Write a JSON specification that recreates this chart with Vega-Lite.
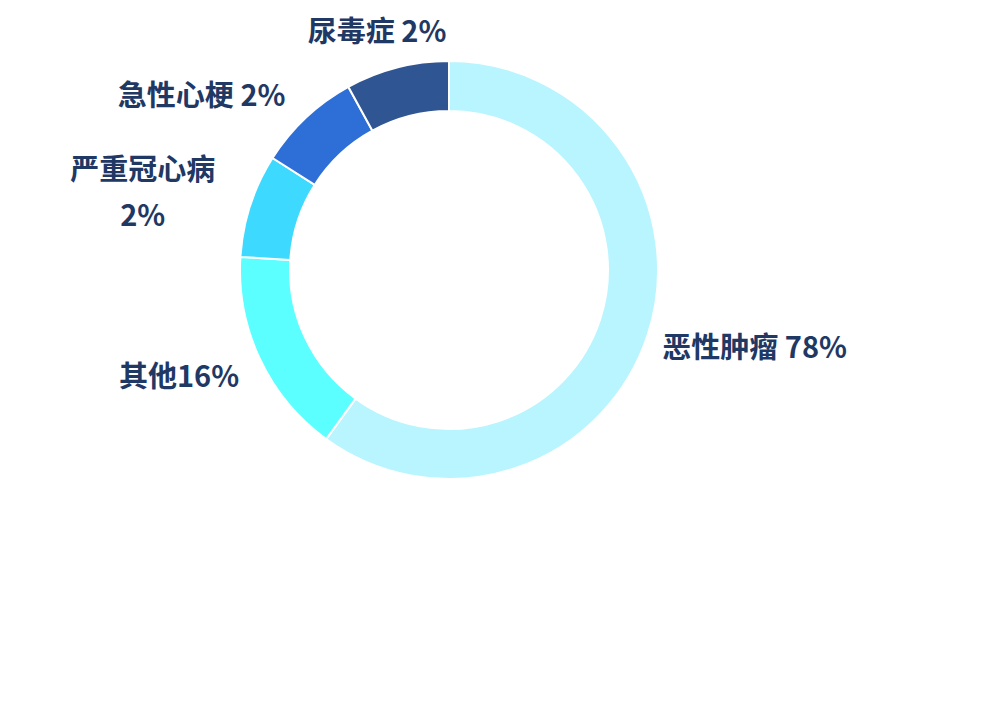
{
  "$schema": "https://vega.github.io/schema/vega-lite/v6.json",
  "width": 898,
  "height": 540,
  "autosize": {"type": "none"},
  "padding": {"left": 0, "top": 0, "right": 102, "bottom": 170},
  "background": "white",
  "config": {"view": {"stroke": null}},
  "data": {
    "values": [
      {"cause": "恶性肿瘤", "share": 60, "rank": 1, "label": "恶性肿瘤 78%"},
      {"cause": "其他", "share": 16, "rank": 2, "label": "其他16%"},
      {"cause": "严重冠心病", "share": 8, "rank": 3, "label": "严重冠心病\n2%"},
      {"cause": "急性心梗", "share": 8, "rank": 4, "label": "急性心梗 2%"},
      {"cause": "尿毒症", "share": 8, "rank": 5, "label": "尿毒症 2%"}
    ]
  },
  "encoding": {
    "theta": {"field": "share", "type": "quantitative", "stack": true},
    "order": {"field": "rank", "type": "quantitative"}
  },
  "layer": [
    {
      "mark": {"type": "arc", "outerRadius": 209, "innerRadius": 159, "stroke": "white", "strokeWidth": 2},
      "encoding": {
        "color": {
          "field": "cause",
          "type": "nominal",
          "legend": null,
          "scale": {
            "domain": ["恶性肿瘤", "其他", "严重冠心病", "急性心梗", "尿毒症"],
            "range": ["#B8F5FE", "#5CFFFF", "#3DD9FF", "#2D6FD6", "#2F5592"]
          }
        }
      }
    },
    {
      "mark": {"type": "text", "radius": 315, "dx": 6, "dy": -18, "font": "Noto Sans CJK SC", "fontWeight": "bold", "fontSize": 29, "color": "#1F3864"},
      "encoding": {"text": {"condition": {"test": "datum.cause === '恶性肿瘤'", "field": "label"}, "value": ""}}
    },
    {
      "mark": {"type": "text", "radius": 295, "dx": -3, "dy": -18, "font": "Noto Sans CJK SC", "fontWeight": "bold", "fontSize": 29, "color": "#1F3864"},
      "encoding": {"text": {"condition": {"test": "datum.cause === '其他'", "field": "label"}, "value": ""}}
    },
    {
      "mark": {"type": "text", "radius": 320, "dx": -2, "dy": 0, "lineBreak": "\n", "lineHeight": 46, "font": "Noto Sans CJK SC", "fontWeight": "bold", "fontSize": 29, "color": "#1F3864"},
      "encoding": {"text": {"condition": {"test": "datum.cause === '严重冠心病'", "field": "label"}, "value": ""}}
    },
    {
      "mark": {"type": "text", "radius": 300, "dx": -42, "dy": 46, "font": "Noto Sans CJK SC", "fontWeight": "bold", "fontSize": 29, "color": "#1F3864"},
      "encoding": {"text": {"condition": {"test": "datum.cause === '急性心梗'", "field": "label"}, "value": ""}}
    },
    {
      "mark": {"type": "text", "radius": 245, "dx": -11, "font": "Noto Sans CJK SC", "fontWeight": "bold", "fontSize": 29, "color": "#1F3864"},
      "encoding": {"text": {"condition": {"test": "datum.cause === '尿毒症'", "field": "label"}, "value": ""}}
    }
  ]
}
